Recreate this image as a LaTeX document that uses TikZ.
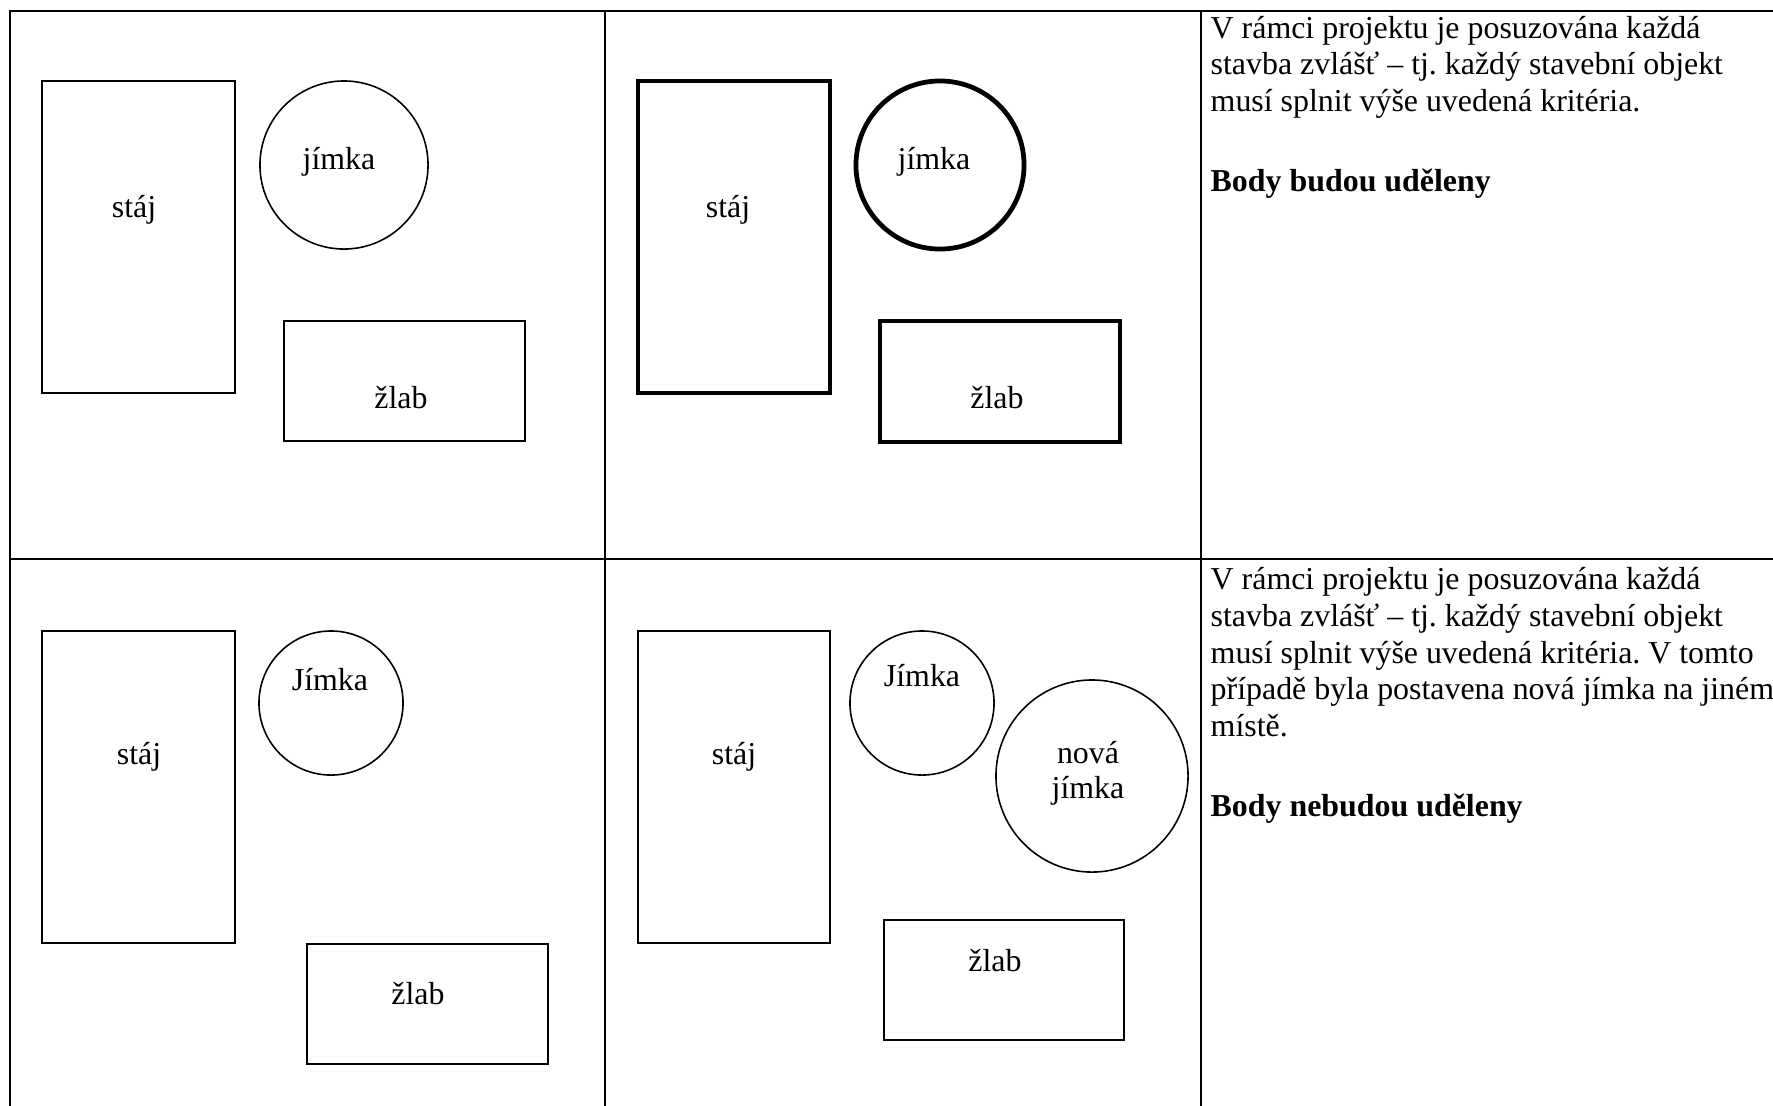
\documentclass[tikz,border=0pt]{standalone}
\usepackage{fontspec}
\setmainfont{Liberation Serif}
\frenchspacing
\tikzset{
  mrizka/.style={black, line width=0.65pt},
  obrys/.style={black, line width=0.45pt},
  tlusty/.style={black, line width=1.35pt},
  popis/.style={font=\fontsize{9.07}{10.5}\selectfont, inner sep=0pt, anchor=base},
  dvojpopis/.style={font=\fontsize{9.07}{9.7}\selectfont, inner sep=0pt, anchor=base, align=center},
  odstavec/.style={font=\fontsize{9.07}{10.5}\selectfont, inner sep=0pt, anchor=base west, align=left}
}
\begin{document}
\begin{tikzpicture}[x=0.01cm, y=-0.01cm]
      \useasboundingbox (0,0) rectangle (1773,1105);
      % Tabulka
      \draw[mrizka] (10,1120) -- (10,11) -- (1790,11);
      \draw[mrizka] (10,559)  -- (1790,559);
      \draw[mrizka] (605,11)  -- (605,1120);
      \draw[mrizka] (1201,11) -- (1201,1120);

      % Vlevo nahore
      \draw[obrys] (42,81) rectangle (235,393);
      \draw[obrys] (344,165) circle (0.84cm);
      \draw[obrys] (284,321) rectangle (525,441);

      \node[popis] (stajA)  at (134,217) {stáj};
      \node[popis] (jimkaA) at (339,169) {jímka};
      \node[popis] (zlabA)  at (401,408) {žlab};

      % Uprostred nahore
      \draw[tlusty] (638,81) rectangle (830,393);
      \draw[tlusty] (940,165) circle (0.84cm);
      \draw[tlusty] (880,321) rectangle (1120,442);

      \node[popis] (stajB)  at (728,217) {stáj};
      \node[popis] (jimkaB) at (934,169) {jímka};
      \node[popis] (zlabB)  at (997,408) {žlab};

      % Vlevo dole
      \draw[obrys] (42,631) rectangle (235,943);
      \draw[obrys] (331,703) circle (0.72cm);
      \draw[obrys] (307,944) rectangle (548,1064);

      \node[popis] (stajC)  at (139,764)  {stáj};
      \node[popis] (jimkaC) at (330,690)  {Jímka};
      \node[popis] (zlabC)  at (418,1004) {žlab};

      % Uprostred dole
      \draw[obrys] (638,631) rectangle (830,943);
      \draw[obrys] (922,703) circle (0.72cm);
      \draw[obrys] (1092,776) circle (0.96cm);
      \draw[obrys] (884,920) rectangle (1124,1040);

      \node[popis]     (stajD)  at (734,764)  {stáj};
      \node[popis]     (jimkaD) at (922,686)  {Jímka};
      \node[dvojpopis] (novaD)  at (1088,798) {nová\\jímka};
      \node[popis]     (zlabD)  at (995,971)  {žlab};

      % Komentare (base = posledni radek)
      \node[odstavec] (textA) at (1210,191)
        {V rámci projektu je posuzována každá\\
         stavba zvlášť – tj. každý stavební objekt\\
         musí splnit výše uvedená kritéria.\\[12pt]
         \textbf{Body budou uděleny}};
      \node[odstavec] (textB) at (1210,816)
        {V rámci projektu je posuzována každá\\
         stavba zvlášť – tj. každý stavební objekt\\
         musí splnit výše uvedená kritéria. V tomto\\
         případě byla postavena nová jímka na jiném\\
         místě.\\[12pt]
         \textbf{Body nebudou uděleny}};

    \end{tikzpicture}
\end{document}
